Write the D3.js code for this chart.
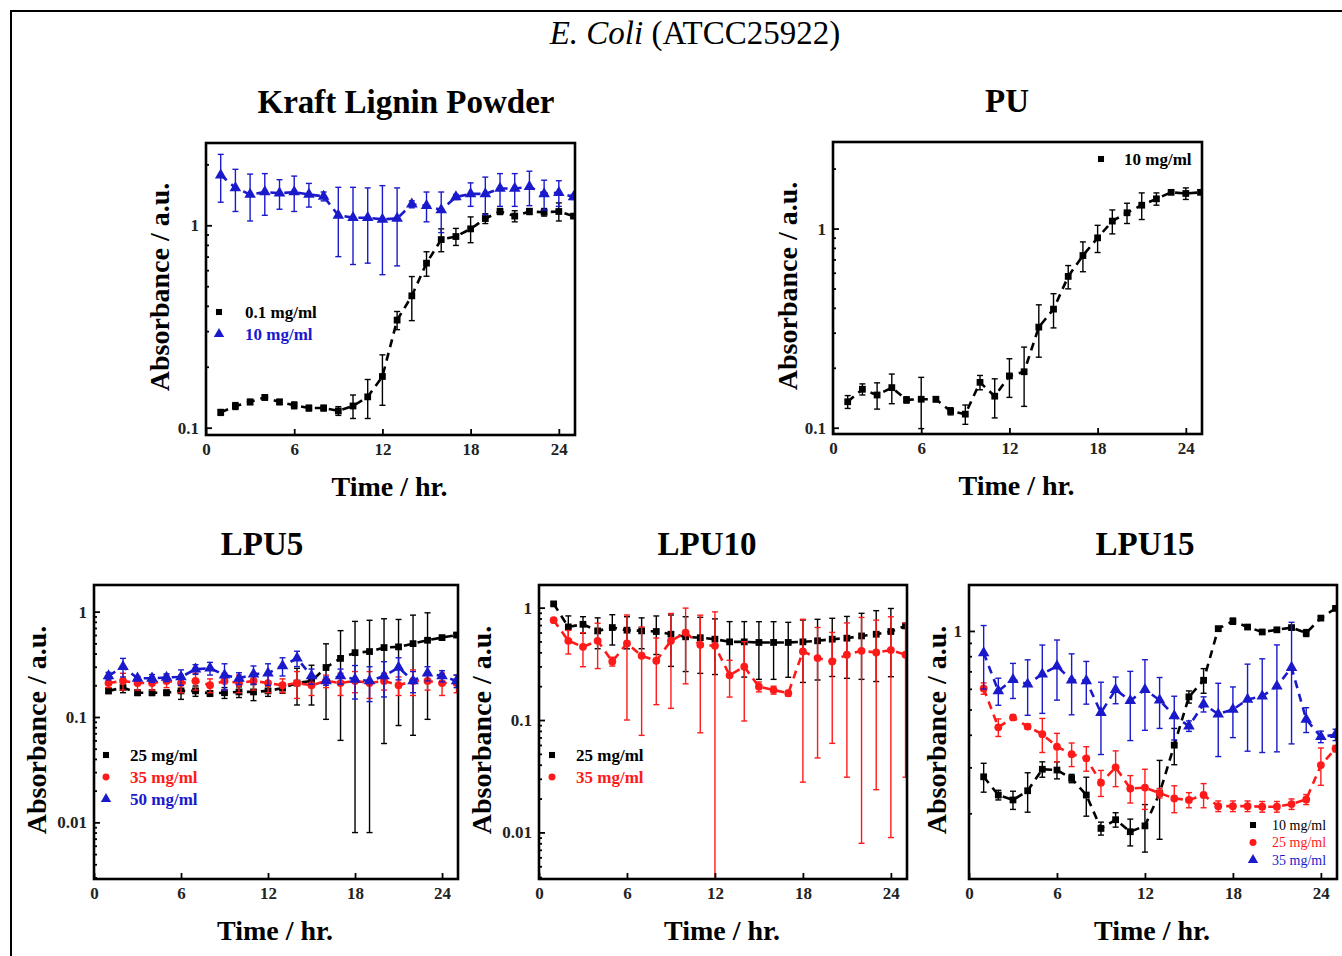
<!DOCTYPE html>
<html>
<head>
<meta charset="utf-8">
<script src="https://cdn.jsdelivr.net/npm/d3@7"></script>
<style>
  html, body { margin: 0; padding: 0; background: #fff; }
  svg { display: block; }
  text { font-family: "Liberation Serif", "Times New Roman", serif; }
</style>
</head>
<body>
<script>
// ---------------- DATA ----------------
const hours = [1,2,3,4,5,6,7,8,9,10,11,12,13,14,15,16,17,18,19,20,21,22,23,24,25];
const xTickValues = [0, 6, 12, 18, 24];

// Kraft Lignin Powder
const kraft01 = [0.119,0.128,0.134,0.141,0.134,0.129,0.125,0.125,0.121,0.128,0.142,0.179,0.34,0.448,0.65,0.85,0.88,0.96,1.08,1.17,1.11,1.17,1.16,1.17,1.11];
const kraft01Err = [0.004,0.005,0.004,0.004,0.004,0.005,0.004,0.004,0.006,0.017,0.031,0.05,0.035,0.11,0.09,0.11,0.085,0.14,0.06,0.04,0.07,0.04,0.05,0.12,0.02];
const kraft10 = [1.77,1.53,1.42,1.46,1.44,1.46,1.42,1.39,1.12,1.09,1.09,1.07,1.08,1.27,1.25,1.19,1.38,1.43,1.43,1.52,1.52,1.55,1.43,1.45,1.38];
const kraft10Err = [0.47,0.36,0.37,0.34,0.24,0.29,0.19,0.07,0.42,0.45,0.44,0.5,0.45,0.05,0.21,0.27,0.04,0.19,0.3,0.28,0.28,0.3,0.24,0.21,0.04];

// PU
const pu10 = [0.135,0.156,0.146,0.159,0.138,0.139,0.139,0.121,0.117,0.169,0.144,0.182,0.191,0.32,0.394,0.575,0.732,0.898,1.09,1.2,1.31,1.41,1.52,1.5,1.52];
const pu10Err = [0.01,0.01,0.022,0.027,0.005,0.04,0.004,0.005,0.013,0.014,0.032,0.04,0.063,0.094,0.077,0.077,0.125,0.14,0.15,0.14,0.2,0.1,0.03,0.1,0.03];

// LPU5
const lpu5_25 = [0.177,0.19,0.17,0.17,0.17,0.177,0.177,0.167,0.17,0.173,0.173,0.177,0.188,0.21,0.22,0.295,0.36,0.408,0.418,0.456,0.463,0.497,0.535,0.567,0.6];
const lpu5_25Err = [0.01,0.02,0.01,0.01,0.01,0.03,0.02,0.01,0.02,0.02,0.03,0.02,0.02,0.08,0.09,0.2,0.3,0.4,0.41,0.4,0.38,0.43,0.44,0.02,0.02];
const lpu5_35 = [0.21,0.22,0.21,0.21,0.22,0.21,0.22,0.2,0.22,0.21,0.22,0.21,0.2,0.21,0.2,0.22,0.21,0.22,0.21,0.22,0.2,0.22,0.22,0.21,0.21];
const lpu5_35Err = [0.02,0.04,0.03,0.03,0.03,0.04,0.04,0.03,0.04,0.04,0.04,0.04,0.03,0.06,0.04,0.03,0.05,0.05,0.06,0.04,0.04,0.06,0.04,0.05,0.04];
const lpu5_50 = [0.245,0.3,0.233,0.233,0.237,0.24,0.284,0.29,0.25,0.233,0.255,0.26,0.305,0.361,0.245,0.22,0.245,0.228,0.22,0.245,0.295,0.22,0.26,0.245,0.22];
const lpu5_50Err = [0.02,0.06,0.01,0.02,0.02,0.04,0.03,0.04,0.07,0.03,0.05,0.06,0.06,0.06,0.04,0.02,0.04,0.08,0.08,0.09,0.07,0.05,0.04,0.03,0.03];

// LPU10
const lpu10_25 = [1.08,0.674,0.711,0.621,0.665,0.63,0.621,0.613,0.58,0.55,0.54,0.524,0.496,0.496,0.49,0.49,0.49,0.496,0.507,0.524,0.535,0.56,0.58,0.613,0.688];
const lpu10_25Err = [0.03,0.17,0.12,0.19,0.2,0.2,0.19,0.23,0.28,0.28,0.28,0.27,0.255,0.255,0.26,0.26,0.25,0.28,0.28,0.28,0.3,0.33,0.36,0.37,0.03];
const lpu10_35 = [0.773,0.507,0.448,0.507,0.332,0.48,0.373,0.337,0.507,0.6,0.467,0.457,0.25,0.298,0.198,0.185,0.173,0.408,0.356,0.332,0.381,0.413,0.399,0.419,0.381];
const lpu10_35Err = [0.03,0.12,0.15,0.22,0.03,0.38,0.3,0.2,0.38,0.39,0.39,0.46,0.09,0.2,0.02,0.015,0.01,0.38,0.31,0.27,0.35,0.405,0.375,0.41,0.35];

// LPU15
const lpu15_10 = [0.276,0.235,0.225,0.244,0.295,0.293,0.272,0.235,0.175,0.189,0.17,0.179,0.239,0.365,0.559,0.647,1.02,1.09,1.035,0.991,1.01,1.03,0.982,1.12,1.22];
const lpu15_10Err = [0.035,0.01,0.018,0.042,0.02,0.022,0.01,0.04,0.01,0.012,0.02,0.037,0.08,0.058,0.03,0.07,0.02,0.03,0.01,0.01,0.01,0.01,0.03,0.01,0.01];
const lpu15_25 = [0.602,0.427,0.466,0.43,0.402,0.36,0.337,0.325,0.262,0.3,0.249,0.251,0.239,0.228,0.225,0.235,0.213,0.213,0.213,0.212,0.212,0.217,0.226,0.306,0.354];
const lpu15_25Err = [0.03,0.033,0.01,0.01,0.06,0.045,0.035,0.035,0.03,0.047,0.03,0.044,0.01,0.027,0.015,0.025,0.01,0.01,0.01,0.01,0.01,0.01,0.01,0.05,0.01];
const lpu15_35 = [0.824,0.589,0.651,0.625,0.683,0.733,0.647,0.644,0.486,0.596,0.54,0.596,0.543,0.472,0.432,0.524,0.48,0.5,0.546,0.562,0.614,0.724,0.458,0.393,0.4];
const lpu15_35Err = [0.225,0.07,0.1,0.15,0.2,0.19,0.17,0.12,0.15,0.07,0.16,0.18,0.12,0.09,0.02,0.035,0.15,0.11,0.2,0.22,0.27,0.355,0.05,0.02,0.02];

// ---------------- STYLE ----------------
const BLACK = "#000000", RED = "#ff1a1a", BLUE = "#1a1acc";
const SYM = { square: d3.symbolSquare, circle: d3.symbolCircle, triangle: d3.symbolTriangle };
const SYMSIZE = { square: 46, circle: 48, triangle: 58 };

const svg = d3.select("body").append("svg").attr("width", 1342).attr("height", 956);
svg.append("rect").attr("x", 11).attr("y", 11).attr("width", 1345).attr("height", 960)
  .attr("fill", "none").attr("stroke", "#000").attr("stroke-width", 2);

// main title
const mt = svg.append("text").attr("x", 695).attr("y", 44).attr("text-anchor", "middle")
  .attr("font-size", 33);
mt.append("tspan").attr("font-style", "italic").text("E. Coli");
mt.append("tspan").text(" (ATCC25922)");

let clipId = 0;
function panel(p) {
  const x = d3.scaleLinear().domain([0, 25.1]).range([p.x0, p.x1]);
  const y = d3.scaleLog().domain(p.yDomain).range([p.y1, p.y0]);
  const g = svg.append("g");
  const id = "clip" + (clipId++);
  g.append("clipPath").attr("id", id).append("rect")
    .attr("x", p.x0).attr("y", p.y0).attr("width", p.x1 - p.x0).attr("height", p.y1 - p.y0);
  const plot = g.append("g").attr("clip-path", `url(#${id})`);
  const ymin = p.yDomain[0];

  p.series.forEach(s => {
    const pts = hours.map((t, i) => ({ t, v: s.values[i], e: s.err[i] }));
    plot.append("path").datum(pts)
      .attr("d", d3.line().x(d => x(d.t)).y(d => y(d.v)))
      .attr("fill", "none").attr("stroke", s.color).attr("stroke-width", 2.6)
      .attr("stroke-dasharray", "8,6");
    const eb = plot.append("g").attr("stroke", s.color).attr("stroke-width", 1.4);
    pts.forEach(d => {
      const top = y(d.v + d.e);
      const lo = d.v - d.e;
      const bot = lo > ymin ? y(lo) : y(ymin) + 2;
      const cx = x(d.t);
      eb.append("line").attr("x1", cx).attr("x2", cx).attr("y1", top).attr("y2", bot);
      eb.append("line").attr("x1", cx - 3).attr("x2", cx + 3).attr("y1", top).attr("y2", top);
      if (lo > ymin) eb.append("line").attr("x1", cx - 3).attr("x2", cx + 3).attr("y1", bot).attr("y2", bot);
    });
    plot.append("g").selectAll("path").data(pts).join("path")
      .attr("transform", d => `translate(${x(d.t)},${y(d.v)})`)
      .attr("d", d3.symbol(SYM[s.shape], SYMSIZE[s.shape]))
      .attr("fill", s.color);
  });

  // axes
  const xa = g.append("g").attr("transform", `translate(0,${p.y1})`)
    .call(d3.axisBottom(x).tickValues(xTickValues).tickSize(-6).tickPadding(8).tickFormat(d3.format("d")));
  const minors = [];
  const lo = Math.floor(Math.log10(p.yDomain[0])), hi = Math.ceil(Math.log10(p.yDomain[1]));
  for (let n = lo; n <= hi; n++) for (let k = 2; k <= 9; k++) {
    const v = k * Math.pow(10, n);
    if (v > p.yDomain[0] && v < p.yDomain[1]) minors.push(v);
  }
  const ya = g.append("g").attr("transform", `translate(${p.x0},0)`)
    .call(d3.axisLeft(y).tickValues(p.yTicks).tickSize(-6).tickPadding(7).tickFormat(d => String(+d.toPrecision(3))));
  const ym = g.append("g").attr("transform", `translate(${p.x0},0)`)
    .call(d3.axisLeft(y).tickValues(minors).tickSize(-3).tickFormat(""));
  [xa, ya, ym].forEach(a => {
    a.select(".domain").remove();
    a.selectAll("line").attr("stroke", "#000").attr("stroke-width", 1.8);
    a.selectAll("text").attr("font-family", "'Liberation Serif', serif").attr("font-size", 17)
      .attr("font-weight", "bold").attr("fill", "#222");
  });

  g.append("rect").attr("x", p.x0).attr("y", p.y0).attr("width", p.x1 - p.x0).attr("height", p.y1 - p.y0)
    .attr("fill", "none").attr("stroke", "#000").attr("stroke-width", 2.6);

  // titles
  g.append("text").attr("x", p.titleX).attr("y", p.y0 - 30).attr("text-anchor", "middle")
    .attr("font-size", 33).attr("font-weight", "bold").text(p.title);
  g.append("text").attr("x", (p.x0 + p.x1) / 2 - 1).attr("y", p.y1 + 61).attr("text-anchor", "middle")
    .attr("font-size", 28).attr("font-weight", "bold").text("Time / hr.");
  g.append("text").attr("transform", `translate(${p.x0 - p.yLabelOffset},${(p.y0 + p.y1) / 2 - 2}) rotate(-90)`)
    .attr("text-anchor", "middle").attr("font-size", 28).attr("font-weight", "bold").text("Absorbance / a.u.");

  // legend
  const L = p.legend;
  p.series.forEach((s, i) => {
    const yy = L.y + i * L.dy;
    g.append("path").attr("transform", `translate(${L.x},${yy})`)
      .attr("d", d3.symbol(SYM[s.shape], SYMSIZE[s.shape] * 0.8)).attr("fill", s.color);
    g.append("text").attr("x", L.x + L.gap).attr("y", yy + L.size * 0.33)
      .attr("font-size", L.size).attr("font-weight", L.weight).attr("fill", s.color).text(s.label);
  });
}

panel({
  title: "Kraft Lignin Powder", titleX: 406, yLabelOffset: 37,
  x0: 206, x1: 575, y0: 143, y1: 435, yDomain: [0.092, 2.55], yTicks: [0.1, 1],
  legend: { x: 219, y: 312, dy: 22, gap: 26, size: 17, weight: "bold" },
  series: [
    { values: kraft01, err: kraft01Err, color: BLACK, shape: "square", label: "0.1 mg/ml" },
    { values: kraft10, err: kraft10Err, color: BLUE, shape: "triangle", label: "10 mg/ml" }
  ]
});
panel({
  title: "PU", titleX: 1007, yLabelOffset: 36,
  x0: 833, x1: 1202, y0: 142, y1: 434, yDomain: [0.093, 2.72], yTicks: [0.1, 1],
  legend: { x: 1101, y: 159, dy: 22, gap: 23, size: 17, weight: "bold" },
  series: [
    { values: pu10, err: pu10Err, color: BLACK, shape: "square", label: "10 mg/ml" }
  ]
});
panel({
  title: "LPU5", titleX: 262, yLabelOffset: 48,
  x0: 94, x1: 458, y0: 585, y1: 879, yDomain: [0.0029, 1.79], yTicks: [0.01, 0.1, 1],
  legend: { x: 106, y: 755, dy: 22, gap: 24, size: 17, weight: "bold" },
  series: [
    { values: lpu5_25, err: lpu5_25Err, color: BLACK, shape: "square", label: "25 mg/ml" },
    { values: lpu5_35, err: lpu5_35Err, color: RED, shape: "circle", label: "35 mg/ml" },
    { values: lpu5_50, err: lpu5_50Err, color: BLUE, shape: "triangle", label: "50 mg/ml" }
  ]
});
panel({
  title: "LPU10", titleX: 707, yLabelOffset: 48,
  x0: 539, x1: 907, y0: 585, y1: 879, yDomain: [0.00385, 1.59], yTicks: [0.01, 0.1, 1],
  legend: { x: 552, y: 755, dy: 22, gap: 24, size: 17, weight: "bold" },
  series: [
    { values: lpu10_25, err: lpu10_25Err, color: BLACK, shape: "square", label: "25 mg/ml" },
    { values: lpu10_35, err: lpu10_35Err, color: RED, shape: "circle", label: "35 mg/ml" }
  ]
});
panel({
  title: "LPU15", titleX: 1145, yLabelOffset: 23,
  x0: 969, x1: 1337, y0: 585, y1: 879, yDomain: [0.112, 1.5], yTicks: [1],
  legend: { x: 1253, y: 825, dy: 17.5, gap: 19, size: 14, weight: "normal" },
  series: [
    { values: lpu15_10, err: lpu15_10Err, color: BLACK, shape: "square", label: "10 mg/ml" },
    { values: lpu15_25, err: lpu15_25Err, color: RED, shape: "circle", label: "25 mg/ml" },
    { values: lpu15_35, err: lpu15_35Err, color: BLUE, shape: "triangle", label: "35 mg/ml" }
  ]
});
</script>
</body>
</html>
